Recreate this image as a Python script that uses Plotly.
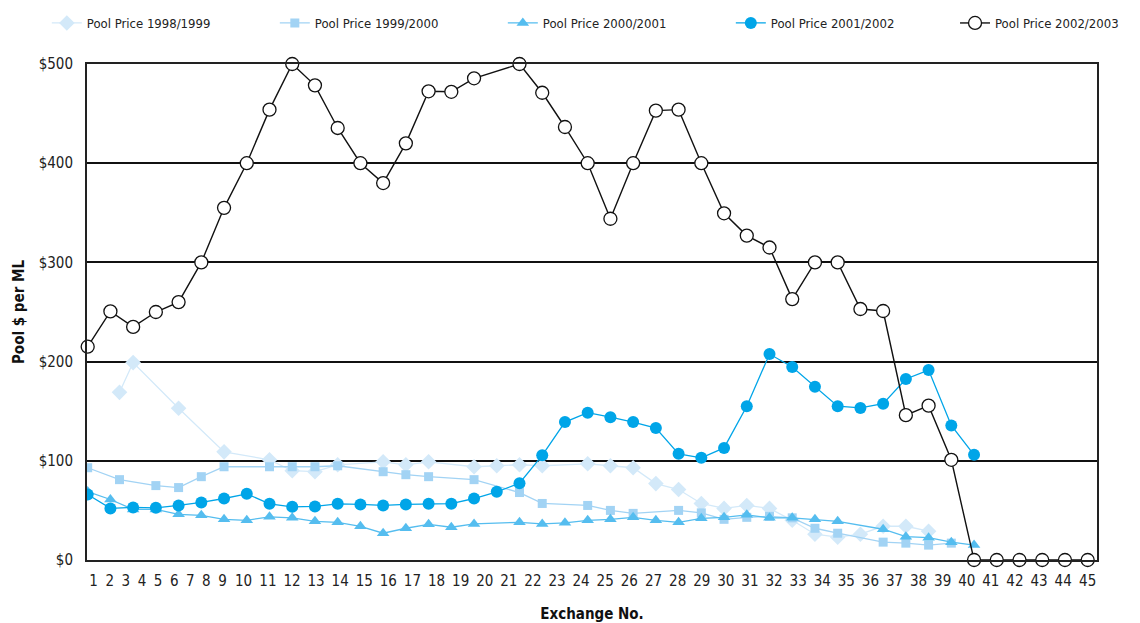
import plotly.graph_objects as go

# ---------------- data ----------------
s1_name = "Pool Price 1998/1999"
s1_x = [2.4, 3, 5, 7, 9, 10, 11, 12, 14, 15, 16, 18, 19, 20, 21, 23, 24, 25, 26, 27, 28, 29, 30, 31, 32, 33, 34, 35, 36, 37, 38]
s1_y = [169, 199, 153, 109, 101, 90, 89, 96, 99, 96, 99, 94, 95, 96, 95, 97, 95, 93, 77, 71, 57, 52, 55, 52, 40, 26, 23, 26, 34, 34, 29]

s2_name = "Pool Price 1999/2000"
s2_x = [1, 2.4, 4, 5, 6, 7, 9, 10, 11, 12, 14, 15, 16, 18, 20, 21, 23, 24, 25, 27, 28, 29, 30, 31, 32, 33, 34, 36, 37, 38, 39]
s2_y = [93, 81, 75, 73, 84, 94, 94, 94, 94, 95, 89, 86, 84, 81, 68, 57, 55, 50, 47, 50, 47.5, 41, 43, 44, 42.5, 32, 27, 18, 17, 15, 17]

s3_name = "Pool Price 2000/2001"
s3_x = [1, 2, 3, 4, 5, 6, 7, 8, 9, 10, 11, 12, 13, 14, 15, 16, 17, 18, 20, 21, 22, 23, 24, 25, 26, 27, 28, 29, 30, 31, 32, 33, 34, 36, 37, 38, 39, 40]
s3_y = [69, 61, 51, 51, 46, 45, 41, 40, 43.5, 42.5, 39, 38, 34, 27, 32, 36, 33, 36.4, 38, 36.4, 37.5, 40, 41, 43, 40, 38, 42, 43, 45.5, 42.5, 42.5, 41, 39, 31, 23.5, 22.5, 18, 15]

s4_name = "Pool Price 2001/2002"
s4_x = list(range(1, 41))
s4_y = [66, 52, 53, 52.6, 55, 58, 62, 66.7, 56.6, 53.6, 54, 56.6, 56, 55, 56, 56.6, 56.8, 62, 68.7, 77.4,
        105.5, 139, 148.5, 144, 139, 133, 107, 103, 113, 155, 207.6, 194.5, 174.7, 155, 153.3, 157.6, 182.5, 191.5, 135.7, 106]

s5_name = "Pool Price 2002/2003"
s5_x = list(range(1, 19)) + list(range(20, 46))
s5_y = [215, 250.6, 235, 250, 260, 300, 355, 400, 454, 500, 478.5, 435.5, 400, 380, 420, 472.5, 472, 485.6,
        500, 471, 436.5, 400, 344, 400, 453, 454, 400, 349.5, 327, 315, 263, 300, 300, 253, 251, 146, 155.6, 101,
        0, 0, 0, 0, 0, 0]

# tick labels (exchange numbers) and where the reference prints them along the axis
tick_text = [str(i) for i in range(1, 46)]
tick_pos = [1.26, 1.97, 2.68, 3.39, 4.10, 4.81, 5.51, 6.22, 6.93, 7.86, 8.93, 9.99, 11.05, 12.11, 13.17,
            14.23, 15.29, 16.35, 17.41, 18.47, 19.53, 20.59, 21.65, 22.71, 23.77, 24.83, 25.90, 26.96,
            28.02, 29.08, 30.14, 31.20, 32.26, 33.32, 34.38, 35.44, 36.50, 37.56, 38.62, 39.68, 40.74,
            41.80, 42.86, 43.92, 45.00]
y_tickvals = [0, 100, 200, 300, 400, 500]
y_ticktext = ["$0", "$100", "$200", "$300", "$400", "$500"]

# ---------------- figure ----------------
FONT = "DejaVu Sans Condensed, Liberation Sans Narrow, Arial Narrow, sans-serif"
W, H = 1132, 615   # page body adds an 8 px offset inside the 1140x623 window

fig = go.Figure()
fig.add_trace(go.Scatter(x=s1_x, y=s1_y, name=s1_name, mode="lines+markers",
                         line=dict(color="#d3e9f9", width=1.3),
                         marker=dict(symbol="diamond", size=12, color="#d3e9f9")))
fig.add_trace(go.Scatter(x=s2_x, y=s2_y, name=s2_name, mode="lines+markers",
                         line=dict(color="#a2d3f4", width=1.3),
                         marker=dict(symbol="square", size=9, color="#a2d3f4")))
fig.add_trace(go.Scatter(x=s3_x, y=s3_y, name=s3_name, mode="lines+markers",
                         line=dict(color="#55bdef", width=1.3),
                         marker=dict(symbol="triangle-up", size=11, color="#55bdef")))
fig.add_trace(go.Scatter(x=s4_x, y=s4_y, name=s4_name, mode="lines+markers",
                         line=dict(color="#00a5e8", width=1.3),
                         marker=dict(symbol="circle", size=12, color="#00a5e8")))
fig.add_trace(go.Scatter(x=s5_x, y=s5_y, name=s5_name, mode="lines+markers", cliponaxis=False,
                         legend="legend2",
                         line=dict(color="#111111", width=1.4),
                         marker=dict(symbol="circle", size=13, color="white",
                                     line=dict(color="#111111", width=1.3))))

legend_common = dict(orientation="h", xref="container", yref="container",
                     xanchor="left", y=1.0, yanchor="top",
                     font=dict(family=FONT, size=13, color="#222222"),
                     entrywidth=183, entrywidthmode="pixels",
                     traceorder="normal", bgcolor="rgba(0,0,0,0)")

fig.update_layout(
    width=W, height=H,
    margin=dict(l=79, r=43, t=56, b=62.5, autoexpand=False),
    paper_bgcolor="white", plot_bgcolor="white",
    font=dict(family=FONT, size=15, color="#222222"),
    showlegend=True,
    legend=dict(x=0.0343, **legend_common),
    legend2=dict(x=0.8366, **legend_common),
    xaxis=dict(range=[0.97, 45.41], tickmode="array", tickvals=tick_pos, ticktext=tick_text,
               showgrid=False, zeroline=False, showline=True, mirror=True,
               linecolor="#222222", linewidth=2, ticks="", ticklabelstandoff=6,
               automargin=False,
               tickfont=dict(family=FONT, size=15, color="#222222"),
               title=dict(text="<b>Exchange No.</b>", standoff=19,
                          font=dict(family=FONT, size=15, color="#111111"))),
    yaxis=dict(range=[0, 500], tickmode="array", tickvals=y_tickvals, ticktext=y_ticktext,
               showgrid=True, gridcolor="#111111", gridwidth=1.5, zeroline=False,
               showline=True, mirror=True, linecolor="#222222", linewidth=2,
               ticks="", ticklabelstandoff=9, automargin=False,
               tickfont=dict(family=FONT, size=15, color="#222222"),
               title=dict(text="<b>Pool $ per ML</b>", standoff=10,
                          font=dict(family=FONT, size=15, color="#111111"))),
)

fig.write_html("out.html")
